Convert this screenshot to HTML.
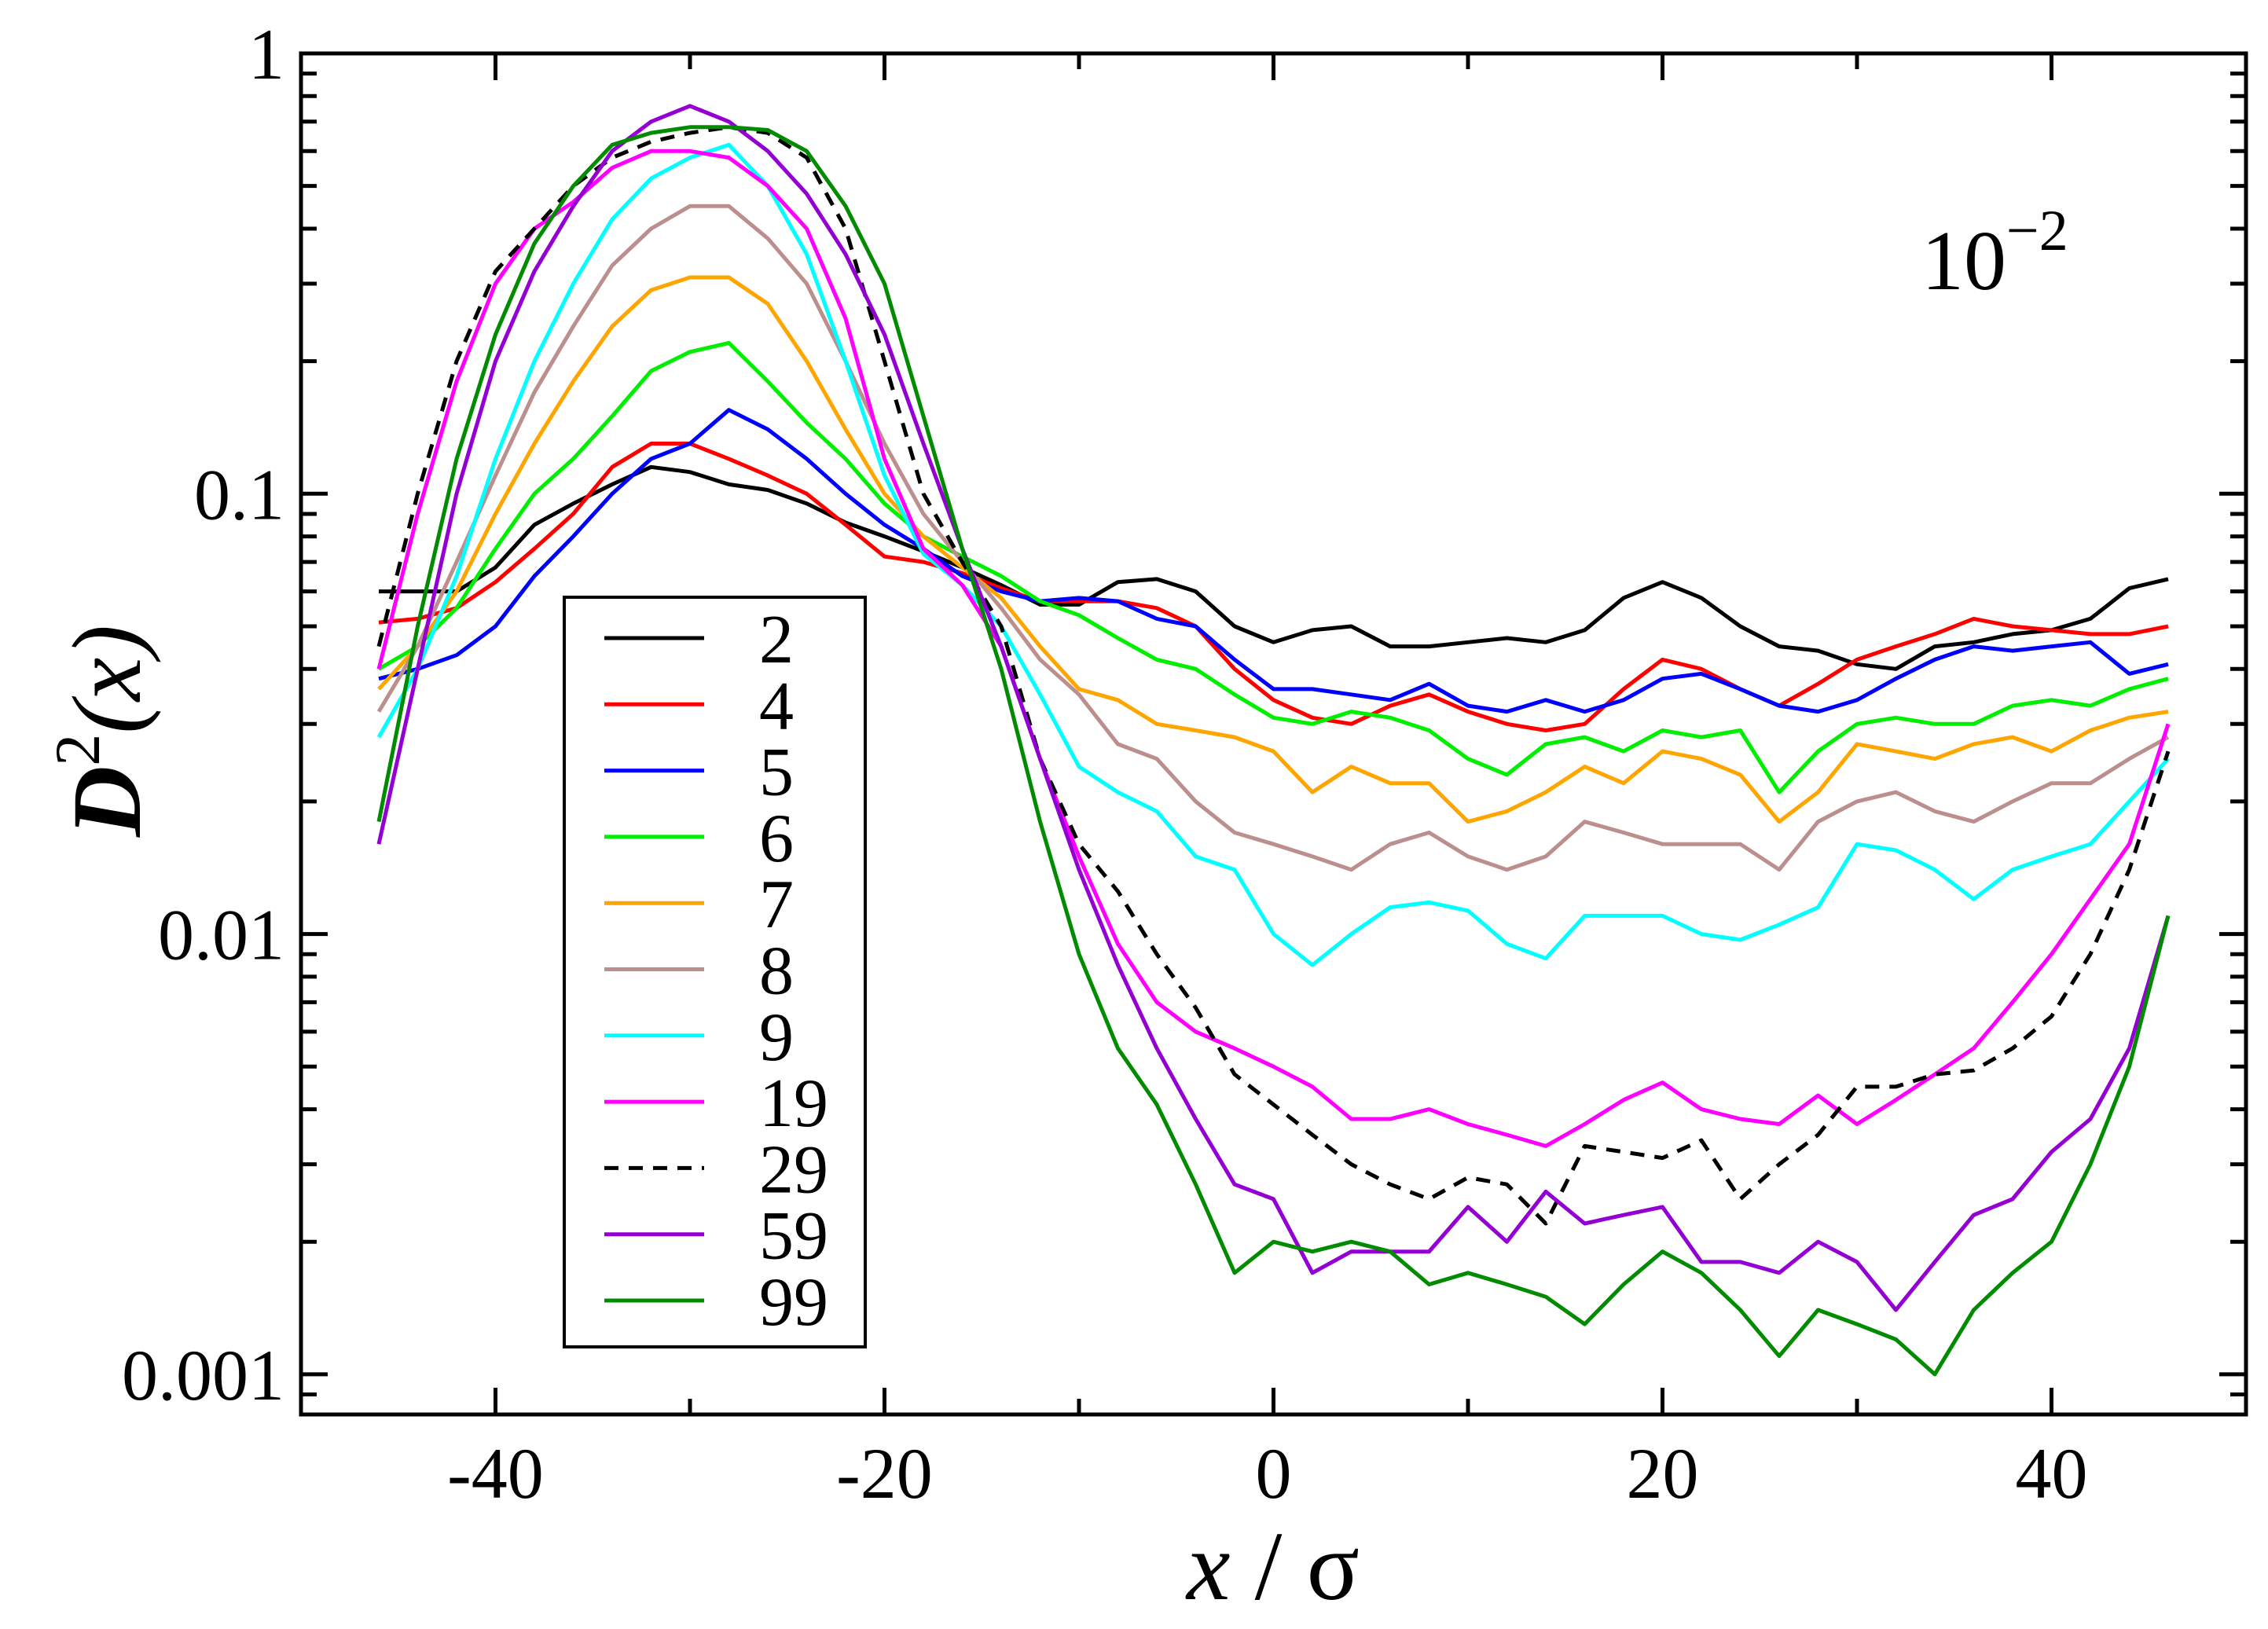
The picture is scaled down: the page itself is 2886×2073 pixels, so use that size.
<!DOCTYPE html>
<html><head><meta charset="utf-8"><style>
html,body{margin:0;padding:0;background:#fff;}
svg{display:block;}
text{font-family:"Liberation Serif",serif;fill:#000;}
</style></head><body>
<svg id="chart" width="2886" height="2073" viewBox="0 0 2886 2073" xmlns="http://www.w3.org/2000/svg">
<rect width="2886" height="2073" fill="#fff"/>
<g id="series"></g>
<g id="axes"></g>
<rect x="383" y="68" width="2475" height="1732" fill="none" stroke="#000" stroke-width="5"/>
<text x="2445" y="368" font-size="108">10<tspan dy="-50" font-size="74">−2</tspan></text>
<text x="1620" y="2035" font-size="125" text-anchor="middle" font-style="italic">x<tspan font-style="normal"> / σ</tspan></text>
<text transform="translate(178,930) rotate(-90)" font-size="125" text-anchor="middle" font-style="italic" font-weight="bold">D<tspan dy="-52" font-size="82" font-style="normal" font-weight="normal">2</tspan><tspan dy="52" font-weight="normal">(x)</tspan></text>
<g id="legend">
<rect x="718" y="760" width="383" height="954" fill="#fff" stroke="#000" stroke-width="4"/>
</g>
</svg>
<script>
const xs = [-46,-44,-42,-40,-38,-36,-34,-32,-30,-28,-26,-24,-22,-20,-18,-16,-14,-12,-10,-8,-6,-4,-2,0,2,4,6,8,10,12,14,16,18,20,22,24,26,28,30,32,34,36,38,40,42,44,46];
const labels = ["2","4","5","6","7","8","9","19","29","59","99"];
const colors = ["#000000","#ff0000","#0000ff","#00ee00","#ffa500","#bc8f8f","#00ffff","#ff00ff","#000000","#9400d3","#008b00"];
const s2 = [0.06,0.06,0.06,0.068,0.085,0.095,0.105,0.115,0.112,0.105,0.102,0.095,0.086,0.08,0.074,0.068,0.062,0.056,0.056,0.063,0.064,0.06,0.05,0.046,0.049,0.05,0.045,0.045,0.046,0.047,0.046,0.049,0.058,0.063,0.058,0.05,0.045,0.044,0.041,0.04,0.045,0.046,0.048,0.049,0.052,0.061,0.064];
const s4 = [0.051,0.052,0.055,0.063,0.075,0.09,0.115,0.13,0.13,0.12,0.11,0.1,0.085,0.072,0.07,0.066,0.061,0.057,0.057,0.057,0.055,0.05,0.04,0.034,0.031,0.03,0.033,0.035,0.032,0.03,0.029,0.03,0.036,0.042,0.04,0.036,0.033,0.037,0.042,0.045,0.048,0.052,0.05,0.049,0.048,0.048,0.05];
const s5 = [0.038,0.04,0.043,0.05,0.065,0.08,0.1,0.12,0.13,0.155,0.14,0.12,0.1,0.085,0.075,0.065,0.06,0.057,0.058,0.057,0.052,0.05,0.042,0.036,0.036,0.035,0.034,0.037,0.033,0.032,0.034,0.032,0.034,0.038,0.039,0.036,0.033,0.032,0.034,0.038,0.042,0.045,0.044,0.045,0.046,0.039,0.041];
const s6 = [0.04,0.045,0.055,0.075,0.1,0.12,0.15,0.19,0.21,0.22,0.18,0.145,0.12,0.095,0.08,0.072,0.065,0.057,0.053,0.047,0.042,0.04,0.035,0.031,0.03,0.032,0.031,0.029,0.025,0.023,0.027,0.028,0.026,0.029,0.028,0.029,0.021,0.026,0.03,0.031,0.03,0.03,0.033,0.034,0.033,0.036,0.038];
const s7 = [0.036,0.045,0.06,0.09,0.13,0.18,0.24,0.29,0.31,0.31,0.27,0.2,0.14,0.1,0.08,0.068,0.058,0.045,0.036,0.034,0.03,0.029,0.028,0.026,0.021,0.024,0.022,0.022,0.018,0.019,0.021,0.024,0.022,0.026,0.025,0.023,0.018,0.021,0.027,0.026,0.025,0.027,0.028,0.026,0.029,0.031,0.032];
const s8 = [0.032,0.045,0.07,0.11,0.17,0.24,0.33,0.4,0.45,0.45,0.38,0.3,0.2,0.13,0.09,0.07,0.055,0.042,0.035,0.027,0.025,0.02,0.017,0.016,0.015,0.014,0.016,0.017,0.015,0.014,0.015,0.018,0.017,0.016,0.016,0.016,0.014,0.018,0.02,0.021,0.019,0.018,0.02,0.022,0.022,0.025,0.028];
const s9 = [0.028,0.04,0.065,0.12,0.2,0.3,0.42,0.52,0.58,0.62,0.5,0.35,0.2,0.11,0.073,0.062,0.05,0.035,0.024,0.021,0.019,0.015,0.014,0.01,0.0085,0.01,0.0115,0.0118,0.0113,0.0095,0.0088,0.011,0.011,0.011,0.01,0.0097,0.0105,0.0115,0.016,0.0155,0.014,0.012,0.014,0.015,0.016,0.02,0.025];
const s19 = [0.04,0.09,0.18,0.3,0.4,0.46,0.55,0.6,0.6,0.58,0.5,0.4,0.25,0.12,0.075,0.062,0.045,0.025,0.015,0.0095,0.007,0.006,0.0055,0.005,0.0045,0.0038,0.0038,0.004,0.0037,0.0035,0.0033,0.0037,0.0042,0.0046,0.004,0.0038,0.0037,0.0043,0.0037,0.0042,0.0048,0.0055,0.007,0.009,0.012,0.016,0.03];
const s29 = [0.045,0.1,0.2,0.32,0.4,0.5,0.58,0.63,0.66,0.68,0.66,0.58,0.4,0.2,0.1,0.07,0.05,0.025,0.016,0.0125,0.009,0.0068,0.0048,0.0041,0.0035,0.003,0.0027,0.0025,0.0028,0.0027,0.0022,0.0033,0.0032,0.0031,0.0034,0.0025,0.003,0.0035,0.0045,0.0045,0.0048,0.0049,0.0055,0.0065,0.009,0.014,0.026];
const s59 = [0.016,0.04,0.1,0.2,0.32,0.45,0.6,0.7,0.76,0.7,0.6,0.48,0.35,0.23,0.13,0.075,0.045,0.025,0.014,0.0085,0.0055,0.0038,0.0027,0.0025,0.0017,0.0019,0.0019,0.0019,0.0024,0.002,0.0026,0.0022,0.0023,0.0024,0.0018,0.0018,0.0017,0.002,0.0018,0.0014,0.0018,0.0023,0.0025,0.0032,0.0038,0.0055,0.011];
const s99 = [0.018,0.05,0.12,0.23,0.37,0.5,0.62,0.66,0.68,0.68,0.67,0.6,0.45,0.3,0.15,0.075,0.04,0.018,0.009,0.0055,0.0041,0.0027,0.0017,0.002,0.0019,0.002,0.0019,0.0016,0.0017,0.0016,0.0015,0.0013,0.0016,0.0019,0.0017,0.0014,0.0011,0.0014,0.0013,0.0012,0.001,0.0014,0.0017,0.002,0.003,0.005,0.011];
const seriesData = [s2,s4,s5,s6,s7,s8,s9,s19,s29,s59,s99];
const xTicks = [-40,-20,0,20,40];
const xTickLabels = ["-40","-20","0","20","40"];
const yTicks = [1,0.1,0.01,0.001];
const yTickLabels = ["1","0.1","0.01","0.001"];

const NS = "http://www.w3.org/2000/svg";
const L=383,R=2858,T=68,B=1800;
const xMin=-50,xMax=50;
const yTop=T, decade=560.3;
function X(v){return L+(v-xMin)/(xMax-xMin)*(R-L);}
function Y(v){return yTop-Math.log10(v)*decade;}
function mk(tag,attrs,parent){const e=document.createElementNS(NS,tag);for(const k in attrs)e.setAttribute(k,attrs[k]);parent.appendChild(e);return e;}

const sg=document.getElementById("series");
seriesData.forEach((d,i)=>{
  const pts=d.map((v,j)=>X(xs[j]).toFixed(1)+","+Y(v).toFixed(1)).join(" ");
  const p=mk("polyline",{points:pts,fill:"none",stroke:colors[i],"stroke-width":5,"stroke-linejoin":"round"},sg);
  if(labels[i]==="29")p.setAttribute("stroke-dasharray","18,13");
  
  
});

const ag=document.getElementById("axes");
for(let v=-50;v<=50;v+=10){
  const major=xTicks.includes(v);const len=major?34:20;
  const t1=mk("line",{x1:X(v),x2:X(v),y1:B,y2:B-len,stroke:"#000","stroke-width":5},ag);
  
  
  const t2=mk("line",{x1:X(v),x2:X(v),y1:T,y2:T+len,stroke:"#000","stroke-width":5},ag);
  
  
}
xTicks.forEach((v,i)=>{
  const t=mk("text",{x:X(v),y:1906,"font-size":92,"text-anchor":"middle"},ag);
  t.textContent=xTickLabels[i];
  
  
});
for(let e=-4;e<=0;e++){
  for(let m=1;m<=9;m++){
    const v=m*Math.pow(10,e);const y=Y(v);
    if(y<T-1||y>B+1)continue;
    const len=m===1?34:20;
    const a=mk("line",{x1:L,x2:L+len,y1:y,y2:y,stroke:"#000","stroke-width":5},ag);
    
    
    const b=mk("line",{x1:R,x2:R-len,y1:y,y2:y,stroke:"#000","stroke-width":5},ag);
    
    
  }
}
yTicks.forEach((v,i)=>{
  const t=mk("text",{x:362,y:Y(v)+32,"font-size":92,"text-anchor":"end"},ag);
  t.textContent=yTickLabels[i];
  
  
});
const lg=document.getElementById("legend");
labels.forEach((lab,i)=>{
  const y=812+84.3*i;
  const ln=mk("line",{x1:769,x2:896,y1:y,y2:y,stroke:colors[i],"stroke-width":5},lg);
  if(lab==="29")ln.setAttribute("stroke-dasharray","18,13");
  
  
  const t=mk("text",{x:966,y:y+31,"font-size":88},lg);
  t.textContent=lab;
  
  
});
</script>
</body></html>
